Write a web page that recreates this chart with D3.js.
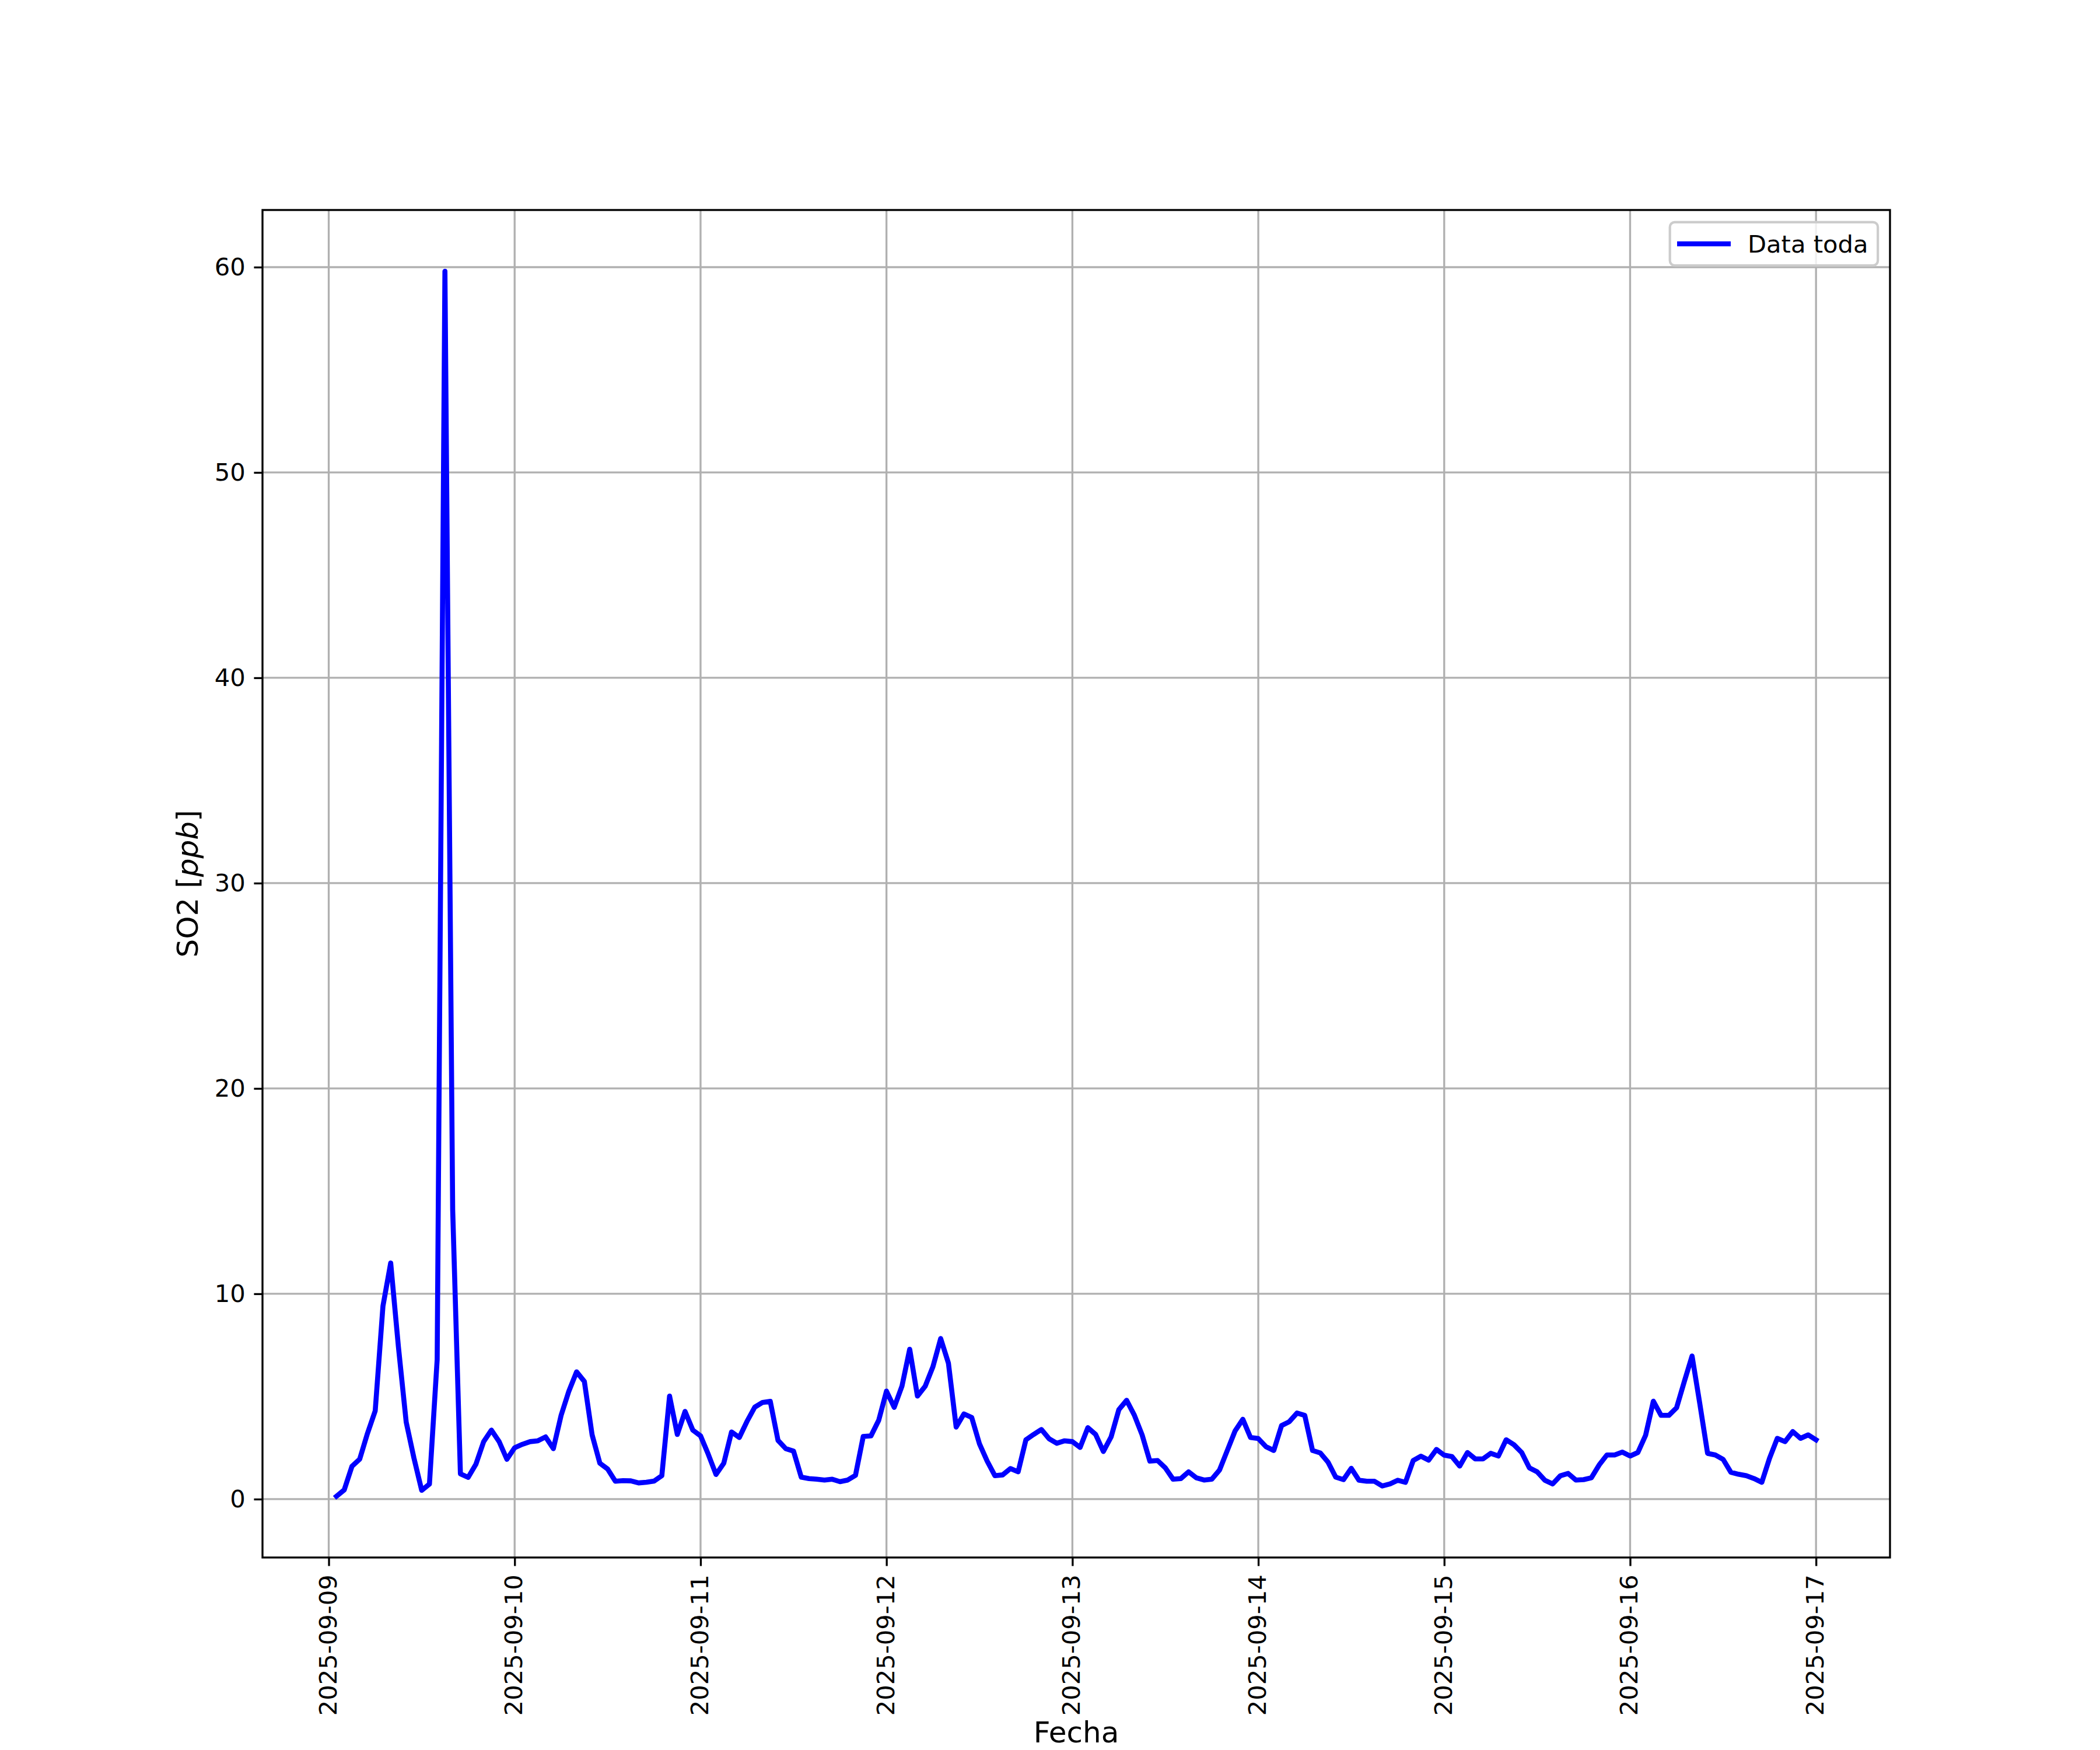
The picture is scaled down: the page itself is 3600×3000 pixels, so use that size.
<!DOCTYPE html>
<html>
<head>
<meta charset="utf-8">
<script src="https://cdn.jsdelivr.net/npm/d3@7"></script>
<style>
  body { margin: 0; background: #ffffff; }
  svg { display: block; font-family: "DejaVu Sans", sans-serif; }
</style>
</head>
<body>
<div id="chart"></div>
<script>
// hourly SO2 readings [ppb], one array per day (01:00 .. 24:00)
const day0909 = [0.14, 0.45, 1.6, 1.95, 3.2, 4.3, 9.4, 11.5, 7.4, 3.75, 2.0, 0.43,
                 0.73, 6.8, 59.8, 14.1, 1.23, 1.06, 1.7, 2.8, 3.36, 2.8, 1.94, 2.5];
const day0910 = [2.67, 2.8, 2.84, 3.03, 2.46, 4.08, 5.26, 6.2, 5.73, 3.13, 1.75, 1.47,
                 0.87, 0.9, 0.89, 0.79, 0.82, 0.88, 1.14, 5.02, 3.15, 4.27, 3.36, 3.08];
const day0911 = [2.18, 1.2, 1.75, 3.27, 3.0, 3.79, 4.48, 4.71, 4.76, 2.86, 2.46, 2.34,
                 1.07, 1.0, 0.97, 0.93, 0.97, 0.85, 0.93, 1.16, 3.05, 3.08, 3.84, 5.26];
const day0912 = [4.47, 5.5, 7.3, 5.02, 5.5, 6.45, 7.82, 6.62, 3.51, 4.15, 3.98, 2.7,
                 1.85, 1.14, 1.18, 1.49, 1.33, 2.89, 3.15, 3.39, 2.94, 2.72, 2.84, 2.8];
const day0913 = [2.52, 3.48, 3.15, 2.32, 3.03, 4.36, 4.81, 4.09, 3.13, 1.85, 1.88, 1.52,
                 0.97, 1.0, 1.33, 1.04, 0.93, 0.97, 1.42, 2.37, 3.32, 3.89, 3.0, 2.95];
const day0914 = [2.55, 2.37, 3.58, 3.77, 4.19, 4.08, 2.37, 2.25, 1.8, 1.07, 0.95, 1.5,
                 0.92, 0.87, 0.87, 0.64, 0.74, 0.92, 0.82, 1.88, 2.09, 1.9, 2.42, 2.14];
const day0915 = [2.07, 1.61, 2.27, 1.96, 1.96, 2.23, 2.1, 2.89, 2.65, 2.27, 1.52, 1.33,
                 0.92, 0.74, 1.14, 1.25, 0.93, 0.95, 1.04, 1.66, 2.15, 2.15, 2.29, 2.1];
const day0916 = [2.27, 3.11, 4.77, 4.08, 4.08, 4.45, 5.73, 6.97, 4.64, 2.23, 2.15, 1.94,
                 1.31, 1.21, 1.14, 1.0, 0.82, 1.99, 2.96, 2.8, 3.29, 2.96, 3.13, 2.89];

const firstReading = "2025-09-09T01:00";
const xTickLabels = ["2025-09-09", "2025-09-10", "2025-09-11", "2025-09-12", "2025-09-13",
                     "2025-09-14", "2025-09-15", "2025-09-16", "2025-09-17"];
const yTicks = [0, 10, 20, 30, 40, 50, 60];
const seriesName = "Data toda";

const so2 = [].concat(day0909, day0910, day0911, day0912, day0913, day0914, day0915, day0916);
const t0 = d3.utcParse("%Y-%m-%dT%H:%M")(firstReading);
const readings = so2.map(function(v, i) { return {time: d3.utcHour.offset(t0, i), value: v}; });

var width = 3600, height = 3000;
var margin = {top: 360, right: 360, bottom: 330, left: 450};
var plotW = width - margin.left - margin.right,
    plotH = height - margin.top - margin.bottom;

var pt = 300 / 72;           // figure was 300 dpi
var tickFont = 10 * pt, labelFont = 12 * pt;
var tickLen = 3.5 * pt, tickPad = 3.5 * pt;

var svg = d3.select("#chart").append("svg")
    .attr("width", width).attr("height", height);
svg.append("rect").attr("width", width).attr("height", height).attr("fill", "#fff");

var g = svg.append("g")
    .attr("transform", "translate(" + margin.left + "," + margin.top + ")");

// matplotlib style 5% margins
var tExt = d3.extent(readings, function(d) { return d.time; });
var tPad = (tExt[1] - tExt[0]) * 0.05;
var x = d3.scaleUtc()
    .domain([new Date(+tExt[0] - tPad), new Date(+tExt[1] + tPad)])
    .range([0, plotW]);

var vExt = d3.extent(readings, function(d) { return d.value; });
var vPad = (vExt[1] - vExt[0]) * 0.05;
var y = d3.scaleLinear()
    .domain([vExt[0] - vPad, vExt[1] + vPad])
    .range([plotH, 0]);

var xTicks = xTickLabels.map(d3.utcParse("%Y-%m-%d"));

// grid
g.append("g").selectAll("line").data(xTicks).enter().append("line")
    .attr("x1", function(d) { return x(d); }).attr("x2", function(d) { return x(d); })
    .attr("y1", 0).attr("y2", plotH)
    .attr("stroke", "#b0b0b0").attr("stroke-width", 0.8 * pt);
g.append("g").selectAll("line").data(yTicks).enter().append("line")
    .attr("x1", 0).attr("x2", plotW)
    .attr("y1", function(d) { return y(d); }).attr("y2", function(d) { return y(d); })
    .attr("stroke", "#b0b0b0").attr("stroke-width", 0.8 * pt);

// data line
var line = d3.line()
    .x(function(d) { return x(d.time); })
    .y(function(d) { return y(d.value); });

g.append("path")
    .datum(readings)
    .attr("d", line)
    .attr("fill", "none")
    .attr("stroke", "#0000ff")
    .attr("stroke-width", 8.6)
    .attr("stroke-linejoin", "round")
    .attr("stroke-linecap", "square");

// axes
var yAxis = g.append("g")
    .call(d3.axisLeft(y).tickValues(yTicks).tickSize(tickLen).tickPadding(tickPad));
var xAxis = g.append("g")
    .attr("transform", "translate(0," + plotH + ")")
    .call(d3.axisBottom(x).tickValues(xTicks).tickFormat(d3.utcFormat("%Y-%m-%d"))
        .tickSize(tickLen).tickPadding(tickPad));

[xAxis, yAxis].forEach(function(ax) {
    ax.select(".domain").remove();
    ax.selectAll(".tick line").attr("stroke", "#000").attr("stroke-width", 0.8 * pt);
    ax.selectAll(".tick text").attr("fill", "#000")
        .style("font-family", "DejaVu Sans").style("font-size", tickFont + "px");
});
xAxis.selectAll(".tick text")
    .attr("transform", "rotate(-90)")
    .attr("text-anchor", "end")
    .attr("x", -(tickLen + tickPad))
    .attr("y", 0)
    .attr("dy", "0.3em");

// spines
g.append("rect")
    .attr("width", plotW).attr("height", plotH)
    .attr("fill", "none").attr("stroke", "#000").attr("stroke-width", 0.8 * pt);

// axis labels
svg.append("text")
    .attr("x", margin.left + plotW / 2)
    .attr("y", 2987)
    .attr("text-anchor", "middle")
    .style("font-size", labelFont + "px")
    .text("Fecha");

var yl = svg.append("text")
    .attr("transform", "translate(339," + (margin.top + plotH / 2) + ") rotate(-90)")
    .attr("text-anchor", "middle")
    .style("font-size", labelFont + "px");
yl.append("tspan").text("SO2 [");
yl.append("tspan").style("font-style", "italic").text("ppb");
yl.append("tspan").text("]");

// legend
var em = tickFont;
var legend = svg.append("g");
var lgRight = margin.left + plotW - 0.5 * em,
    lgTop = margin.top + 0.5 * em;
var lgText = legend.append("text")
    .style("font-size", tickFont + "px")
    .text(seriesName);
var textW = lgText.node().getComputedTextLength();
var lgW = 0.4 * em + 2.0 * em + 0.8 * em + textW + 0.4 * em;
var lgH = 74.3;
var lgLeft = lgRight - lgW;
legend.insert("rect", "text")
    .attr("x", lgLeft).attr("y", lgTop)
    .attr("width", lgW).attr("height", lgH)
    .attr("rx", 0.2 * em).attr("ry", 0.2 * em)
    .attr("fill", "#fff").attr("fill-opacity", 0.8)
    .attr("stroke", "#cccccc").attr("stroke-width", 1 * pt);
legend.insert("line", "text")
    .attr("x1", lgLeft + 0.4 * em).attr("x2", lgLeft + 2.4 * em)
    .attr("y1", lgTop + lgH / 2).attr("y2", lgTop + lgH / 2)
    .attr("stroke", "#0000ff").attr("stroke-width", 8.6)
    .attr("stroke-linecap", "square");
lgText.attr("x", lgLeft + 3.2 * em).attr("y", lgTop + lgH / 2 + 15.5);
</script>
</body>
</html>
